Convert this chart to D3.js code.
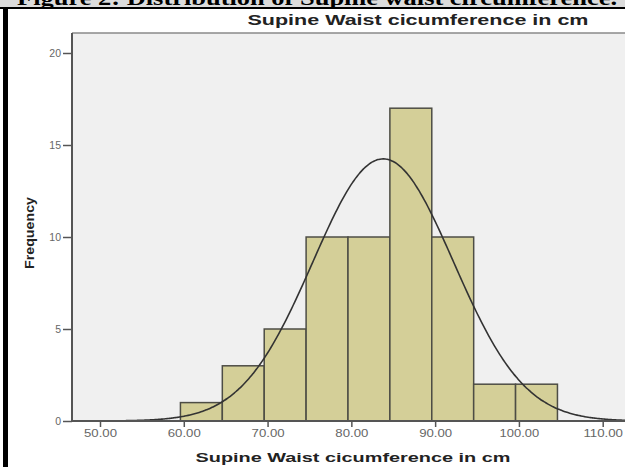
<!DOCTYPE html>
<html><head><meta charset="utf-8">
<script src="https://cdn.jsdelivr.net/npm/d3@7"></script>
<style>
html,body{margin:0;padding:0;background:#fff;overflow:hidden;}
svg{display:block;overflow:hidden;}
</style></head>
<body>
<svg id="chart" width="625" height="467"></svg>
<script>
// ---- data ----
const binStarts = [59.6, 64.6, 69.6, 74.6, 79.6, 84.6, 89.6, 94.6, 99.6];
const binWidth = 5;
const frequencies = [1, 3, 5, 10, 10, 17, 10, 2, 2];
const xTicks = [50, 60, 70, 80, 90, 100, 110];
const xTickLabels = ["50.00", "60.00", "70.00", "80.00", "90.00", "100.00", "110.00"];
const yTicks = [0, 5, 10, 15, 20];
const curveMean = 83.8;
const curveSD = 8.4;
const totalN = 60;
const captionText = "Figure 2: Distribution of Supine waist circumference.";
const titleText = "Supine Waist cicumference in cm";
const xTitle = "Supine Waist cicumference in cm";
const yTitle = "Frequency";

const svg = d3.select("#chart");
const W = 625, H = 467;
const plotL = 72, plotT = 33, plotB = 421;

const x = d3.scaleLinear().domain([50, 110]).range([100, 602.7]);
const y = d3.scaleLinear().domain([0, 20]).range([421, 53]);

// caption strip (cropped)
svg.append("rect").attr("x", 0).attr("y", 0).attr("width", W).attr("height", 7).attr("fill", "#dcdcdc");
svg.append("clipPath").attr("id", "capclip").append("rect").attr("x", 0).attr("y", 0).attr("width", W).attr("height", 7);
svg.append("text").attr("clip-path", "url(#capclip)")
  .attr("x", 17).attr("y", 4.5)
  .attr("font-family", "'Liberation Serif','Times New Roman',serif")
  .attr("font-weight", "bold").attr("font-size", 22)
  .attr("textLength", 600).attr("lengthAdjust", "spacingAndGlyphs")
  .attr("fill", "#000").text(captionText);
// black frame lines
svg.append("rect").attr("x", 0).attr("y", 7).attr("width", W).attr("height", 2).attr("fill", "#000");
svg.append("rect").attr("x", 3).attr("y", 7).attr("width", 5).attr("height", H - 7).attr("fill", "#000");

// plot background
svg.append("rect").attr("x", plotL).attr("y", plotT).attr("width", W - plotL).attr("height", plotB - plotT)
  .attr("fill", "#f0f0f0");
svg.append("line").attr("x1", plotL).attr("x2", W).attr("y1", plotT).attr("y2", plotT)
  .attr("stroke", "#8a8a8a").attr("stroke-width", 1.5);

// title
svg.append("text").attr("x", 418).attr("y", 25).attr("text-anchor", "middle")
  .attr("font-family", "Arial, 'Liberation Sans', sans-serif").attr("font-weight", "bold").attr("font-size", 15)
  .attr("textLength", 341).attr("lengthAdjust", "spacingAndGlyphs")
  .attr("fill", "#222").text(titleText);

const g = svg.append("g");
svg.append("clipPath").attr("id", "plotclip")
  .append("rect").attr("x", plotL).attr("y", plotT).attr("width", W - plotL).attr("height", plotB - plotT);

// bars
g.selectAll("rect.bar").data(frequencies).join("rect").attr("class", "bar")
  .attr("x", (d, i) => x(binStarts[i]))
  .attr("width", (d, i) => x(binStarts[i] + binWidth) - x(binStarts[i]))
  .attr("y", d => y(d))
  .attr("height", d => y(0) - y(d))
  .attr("fill", "#d4cf98").attr("stroke", "#4d4d45").attr("stroke-width", 1.5);

// normal curve
const dom = [x.invert(plotL), x.invert(W)];
const pts = d3.range(0, 301).map(i => dom[0] + (dom[1] - dom[0]) * i / 300);
const dens = v => totalN * binWidth / (curveSD * Math.sqrt(2 * Math.PI)) * Math.exp(-0.5 * Math.pow((v - curveMean) / curveSD, 2));
g.append("path").attr("clip-path", "url(#plotclip)")
  .attr("d", d3.line().x(v => x(v)).y(v => y(dens(v))).curve(d3.curveBasis)(pts))
  .attr("fill", "none").attr("stroke", "#333").attr("stroke-width", 1.6);

// axes lines
svg.append("line").attr("x1", plotL).attr("x2", plotL).attr("y1", plotT).attr("y2", plotB).attr("stroke", "#555").attr("stroke-width", 2);
svg.append("line").attr("x1", plotL).attr("x2", W).attr("y1", plotB).attr("y2", plotB).attr("stroke", "#555").attr("stroke-width", 2);

// y axis
const yAxis = d3.axisLeft(y).tickValues(yTicks).tickSize(9).tickPadding(2).tickFormat(d3.format("d"));
const ya = svg.append("g").attr("transform", `translate(${plotL},0)`).call(yAxis);
ya.select(".domain").remove();
ya.selectAll(".tick line").attr("stroke", "#555").attr("stroke-width", 1.5);
ya.selectAll(".tick text").attr("font-family", "Arial, 'Liberation Sans', sans-serif").attr("font-size", 10.5).attr("fill", "#666");

// x axis
const xAxis = d3.axisBottom(x).tickValues(xTicks).tickSize(6).tickPadding(3).tickFormat((d, i) => xTickLabels[i]);
const xa = svg.append("g").attr("transform", `translate(0,${plotB})`).call(xAxis);
xa.select(".domain").remove();
xa.selectAll(".tick line").attr("stroke", "#555").attr("stroke-width", 1.5);
xa.selectAll(".tick text").attr("font-family", "Arial, 'Liberation Sans', sans-serif").attr("font-size", 10.5).attr("fill", "#666")
  .attr("textLength", (d, i) => xTickLabels[i].length * 6.6).attr("lengthAdjust", "spacingAndGlyphs");

// axis titles
svg.append("text").attr("x", 353).attr("y", 462).attr("text-anchor", "middle")
  .attr("font-family", "Arial, 'Liberation Sans', sans-serif").attr("font-weight", "bold").attr("font-size", 13)
  .attr("textLength", 315).attr("lengthAdjust", "spacingAndGlyphs")
  .attr("fill", "#222").text(xTitle);
svg.append("text").attr("transform", "translate(34,233) rotate(-90)").attr("text-anchor", "middle")
  .attr("font-family", "Arial, 'Liberation Sans', sans-serif").attr("font-weight", "bold").attr("font-size", 13)
  .attr("textLength", 72).attr("lengthAdjust", "spacingAndGlyphs")
  .attr("fill", "#222").text(yTitle);
</script>
</body></html>
